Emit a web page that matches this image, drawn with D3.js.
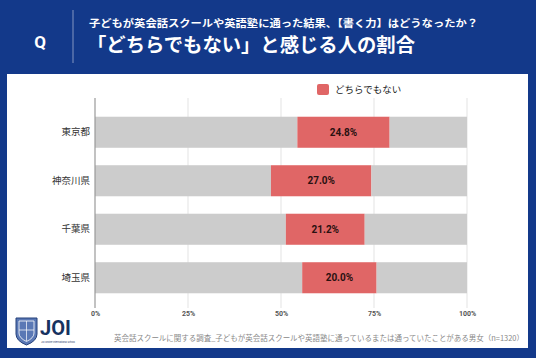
<!DOCTYPE html>
<html><head><meta charset="utf-8">
<script src="https://cdn.jsdelivr.net/npm/d3@7"></script>
<style>body{margin:0;padding:0;background:#13398a;}svg{display:block;font-family:"Noto Sans CJK JP","Noto Sans",sans-serif;}</style>
</head><body>
<svg id="c" width="536" height="358"></svg>
<script>
const categories = ["東京都", "神奈川県", "千葉県", "埼玉県"];
const leftValues = [54.4, 47.3, 51.3, 55.7];
const midValues = [24.8, 27.0, 21.2, 20.0];
const rightValues = [20.8, 25.7, 27.5, 24.3];
const tickValues = [0, 25, 50, 75, 100];
const tickLabels = ["0%", "25%", "50%", "75%", "100%"];
const seriesName = "どちらでもない";
const subtitle = "子どもが英会話スクールや英語塾に通った結果、【書く力】はどうなったか？";
const title = "「どちらでもない」と感じる人の割合";
const footnote = "英会話スクールに関する調査_子どもが英会話スクールや英語塾に通っているまたは通っていたことがある男女（n=1320）";

const svg = d3.select("#c");
svg.append("rect").attr("width",536).attr("height",358).attr("fill","#13398a");
// header
svg.append("text").attr("x",40).attr("y",48).attr("text-anchor","middle").attr("fill","#fff")
  .attr("font-size",17).attr("font-weight","bold").attr("font-family","Roboto, sans-serif").text("Q");
svg.append("line").attr("x1",73).attr("x2",73).attr("y1",10).attr("y2",63).attr("stroke","#8496c0").attr("stroke-width",1);
svg.append("text").attr("x",89).attr("y",27).attr("fill","#fff").attr("font-size",10).attr("font-weight","bold")
  .attr("textLength",389).attr("lengthAdjust","spacingAndGlyphs").text(subtitle);
svg.append("text").attr("x",87).attr("y",52).attr("fill","#fff").attr("font-size",19.5).attr("font-weight","bold")
  .attr("textLength",328).attr("lengthAdjust","spacingAndGlyphs").text(title);
// panel
svg.append("rect").attr("x",7).attr("y",74).attr("width",521).attr("height",274).attr("fill","#fff");

const x = d3.scaleLinear().domain([0,100]).range([95,467]);
const y = d3.scaleBand().domain(categories).range([108,302]).paddingInner(0.36).paddingOuter(0.18);

// gridlines
svg.append("g").selectAll("line").data(tickValues.slice(1)).join("line")
  .attr("x1",d=>x(d)).attr("x2",d=>x(d)).attr("y1",98).attr("y2",308)
  .attr("stroke","#e3e3e3").attr("stroke-width",1);

const rows = categories.map((c,i)=>({c, l:leftValues[i], m:midValues[i], r:rightValues[i]}));
const g = svg.append("g");
rows.forEach(d=>{
  const yy = y(d.c), h = y.bandwidth();
  g.append("rect").attr("x",x(0)).attr("y",yy).attr("width",x(d.l)-x(0)).attr("height",h).attr("fill","#cccccc");
  g.append("rect").attr("x",x(d.l)).attr("y",yy).attr("width",x(d.l+d.m)-x(d.l)).attr("height",h).attr("fill","#e06666");
  g.append("rect").attr("x",x(d.l+d.m)).attr("y",yy).attr("width",x(100)-x(d.l+d.m)).attr("height",h).attr("fill","#cccccc");
  g.append("text").attr("x",(x(d.l)+x(d.l+d.m))/2).attr("y",yy+h/2+3.5).attr("text-anchor","middle")
    .attr("font-size",10).attr("font-weight","bold").attr("fill","#2a1111").attr("font-family","Roboto, Arial, sans-serif")
    .text(d.m.toFixed(1)+"%");
});

// axis line at 0
svg.append("line").attr("x1",x(0)).attr("x2",x(0)).attr("y1",98).attr("y2",308).attr("stroke","#999").attr("stroke-width",1.2);

// y axis labels
const ya = d3.axisLeft(y).tickSize(0).tickPadding(5);
const yg = svg.append("g").attr("transform",`translate(${x(0)},0)`).call(ya);
yg.select(".domain").remove();
yg.selectAll("text").attr("font-size",9.5).attr("fill","#333").attr("font-family","'Noto Sans CJK JP', sans-serif");

// x axis tick labels
const xa = d3.axisBottom(x).tickValues(tickValues).tickFormat((d,i)=>tickLabels[i]).tickSize(0).tickPadding(0);
const xg = svg.append("g").attr("transform","translate(0,311)").call(xa);
xg.select(".domain").remove();
xg.selectAll("text").attr("font-size",7).attr("fill","#555").attr("font-family","Roboto, Arial, sans-serif").attr("font-weight","bold");

// legend
svg.append("rect").attr("x",317).attr("y",84).attr("width",12).attr("height",11).attr("rx",2).attr("fill","#e06666");
svg.append("text").attr("x",335).attr("y",93).attr("font-size",9.5).attr("fill","#222").text(seriesName);

// footnote
svg.append("text").attr("x",114).attr("y",341).attr("font-size",7.5).attr("fill","#888")
  .attr("textLength",410).attr("lengthAdjust","spacingAndGlyphs").text(footnote);

// logo
const lg = svg.append("g");
lg.append("path").attr("d","M16,318 L37,318 L37,334 Q37,341 26.5,345 Q16,341 16,334 Z").attr("fill","#5a78b5").attr("stroke","#24407a").attr("stroke-width",1);
lg.append("path").attr("d","M19,321 L34,321 L34,333 Q34,338 26.5,341.5 Q19,338 19,333 Z").attr("fill","none").attr("stroke","#fff").attr("stroke-width",0.8);
lg.append("line").attr("x1",26.5).attr("x2",26.5).attr("y1",321).attr("y2",341).attr("stroke","#fff").attr("stroke-width",0.7);
lg.append("line").attr("x1",19).attr("x2",34).attr("y1",330).attr("y2",330).attr("stroke","#fff").attr("stroke-width",0.7);
lg.append("text").attr("x",40).attr("y",335).attr("font-size",20).attr("font-weight","bold").attr("fill","#17325f")
  .attr("font-family","Roboto, Arial, sans-serif").text("JOI");
lg.append("text").attr("x",41).attr("y",343).attr("font-size",2.5).attr("fill","#17325f")
  .attr("textLength",34).attr("lengthAdjust","spacingAndGlyphs").text("JOI Online International School");
</script>
</body></html>
